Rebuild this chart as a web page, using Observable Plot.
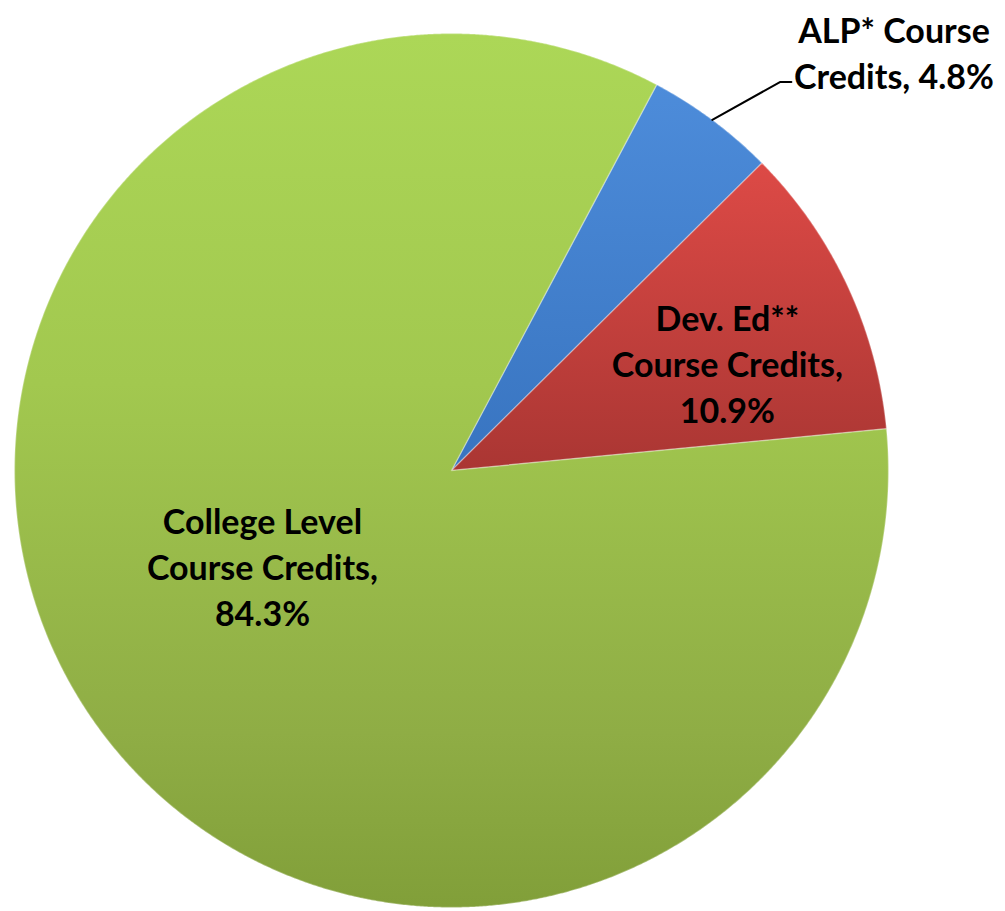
<!DOCTYPE html>
<html>
<head>
<meta charset="utf-8">
<script src="https://cdn.jsdelivr.net/npm/d3@7"></script>
<script src="https://cdn.jsdelivr.net/npm/@observablehq/plot@0.6"></script>
<style>
  html, body { margin: 0; padding: 0; background: #fff; }
  svg { display: block; }
</style>
</head>
<body>
<div id="chart"></div>
<script>
// ---- data ----
const categories = ["ALP* Course Credits", "Dev. Ed** Course Credits", "College Level Course Credits"];
const shares = [4.8, 10.9, 84.3];
const labelTexts = ["ALP* Course\nCredits, 4.8%", "Dev. Ed**\nCourse Credits,\n10.9%", "College Level\nCourse Credits,\n84.3%"];

// ---- layout ----
const W = 1005, H = 911;
const CX = 451, CY = 470, R = 437;
const deg = Math.PI / 180;
const START = 28 * deg;
const baseColors = ["#4382cf", "#c84240", "#98bb4a"];
const gradients = [
  [["0", "#4d8cda"], ["1", "#3874c0"]],
  [["0", "#dd4a46"], ["1", "#aa3633"]],
  [["0", "#acd757"], ["0.4", "#a2c84f"], ["0.8", "#8fad45"], ["1", "#819f39"]]
];
const labelLayout = [{da: 9.9, r: 1.395}, {da: 3.7, r: 0.678}, {da: 7.1, r: 0.484}];

const data = categories.map((c, i) => ({category: c, share: shares[i], label: labelTexts[i], i}));
const arcs = d3.pie().sort(null).value(d => d.share).startAngle(START).endAngle(START + 2 * Math.PI)(data);
const polar = (a, r) => [Math.sin(a) * r, Math.cos(a) * r];

function slicePoints(a, i) {
  const pts = [{x: 0, y: 0, k: i}];
  const n = Math.max(2, Math.ceil((a.endAngle - a.startAngle) / (0.25 * deg)));
  for (let j = 0; j <= n; j++) {
    const t = a.startAngle + (a.endAngle - a.startAngle) * j / n;
    const [x, y] = polar(t, 1);
    pts.push({x, y, k: i});
  }
  pts.push({x: 0, y: 0, k: i});
  return pts;
}
const allPts = arcs.flatMap((a, i) => slicePoints(a, i));

const labels = arcs.map((a, i) => {
  const mid = (a.startAngle + a.endAngle) / 2 + labelLayout[i].da * deg;
  const [x, y] = polar(mid, labelLayout[i].r);
  return {x, y, text: a.data.label};
});

const alp = arcs[0];
const alpMid = (alp.startAngle + alp.endAngle) / 2;
const p0 = polar(alpMid, 1.0);
const p1 = polar(alpMid + 3.6 * deg, 1.165);
const leader = [
  {x: p0[0], y: p0[1]},
  {x: p1[0], y: p1[1]},
  {x: p1[0] + 11 / R, y: p1[1]}
];

const svg = Plot.plot({
  width: W,
  height: H,
  margin: 0,
  x: {domain: [-CX / R, (W - CX) / R], axis: null},
  y: {domain: [-(H - CY) / R, CY / R], axis: null},
  color: {type: "identity"},
  style: {background: "#fff", overflow: "visible"},
  marks: [
    Plot.line(allPts, {
      x: "x", y: "y", z: "k",
      fill: d => baseColors[d.k],
      stroke: "white",
      strokeOpacity: 0.3,
      strokeWidth: 1.5
    }),
    Plot.line(leader, {x: "x", y: "y", stroke: "#000", strokeWidth: 2}),
    Plot.text(labels, {
      x: "x", y: "y", text: "text",
      fontSize: 34, fontWeight: "bold", fontFamily: "Lato, 'Open Sans', sans-serif",
      lineHeight: 1.36, fill: "#000", textAnchor: "middle", lineAnchor: "middle"
    })
  ]
});

// gradient shading of the slices (matching the reference's glossy look)
const NS = "http://www.w3.org/2000/svg";
const defs = document.createElementNS(NS, "defs");
gradients.forEach((stops, i) => {
  const g = document.createElementNS(NS, "linearGradient");
  g.setAttribute("id", `sliceGrad${i}`);
  g.setAttribute("x1", "0"); g.setAttribute("y1", "0");
  g.setAttribute("x2", "0"); g.setAttribute("y2", "1");
  stops.forEach(([o, c]) => {
    const s = document.createElementNS(NS, "stop");
    s.setAttribute("offset", o);
    s.setAttribute("stop-color", c);
    g.appendChild(s);
  });
  defs.appendChild(g);
});
svg.appendChild(defs);
const sliceGroup = svg.querySelector('g[aria-label="line"]');
if (sliceGroup) {
  sliceGroup.querySelectorAll("path").forEach((p, i) => {
    if (i < gradients.length) p.setAttribute("fill", `url(#sliceGrad${i})`);
  });
}
document.getElementById("chart").appendChild(svg);
</script>
</body>
</html>
